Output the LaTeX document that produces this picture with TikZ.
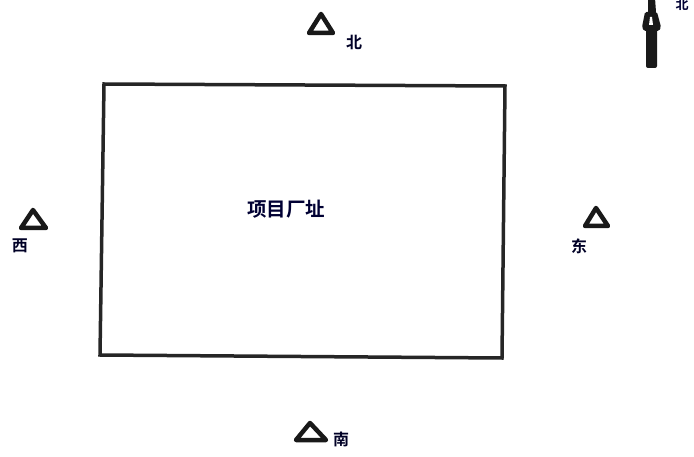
\documentclass[tikz,border=0pt]{standalone}
\usepackage{fontspec}
\newfontfamily\cjk{Noto Sans CJK SC Bold}
\begin{document}
\begin{tikzpicture}[x=1pt,y=-1pt,
  tri/.style={line width=4.5pt,line join=round,draw=black!90},
  lbl/.style={font=\cjk\fontsize{16}{16}\selectfont,text=black!85!blue,inner sep=0pt},
  site/.style={line width=3.5pt,draw=black!85}]
\useasboundingbox (0,0) rectangle (694,457);
% site rectangle
\draw[site] (104,84) coordinate (tl) -- (505,86) coordinate (tr) -- (502,358) coordinate (br) -- (100,355) coordinate (bl) -- cycle;
\node[inner sep=0pt,font=\cjk\fontsize{19.5}{19.5}\selectfont,text=black!80!blue] (site) at (286,209) {项目厂址};
% triangles
\draw[tri] (309,33) -- (321,14) -- (333,33) -- cycle;
\node[lbl] (n) at (354,42) {北};
\draw[tri] (21,228) -- (33,210) -- (46,228) -- cycle;
\node[lbl] (w) at (20,246) {西};
\draw[tri] (585,226) -- (596,208) -- (608,226) -- cycle;
\node[lbl] (e) at (579,246) {东};
\draw[tri] (296,440) -- (310,423) -- (326,440) -- cycle;
\node[lbl] (s) at (341,439) {南};
% north arrow
\fill[black!90] (648,-2) -- (655,-2) -- (656,12) -- (648,12) -- cycle;
\fill[black!90,rounded corners=1.5pt] (645,12) -- (657,12) -- (661,27) -- (659,31) -- (644,31) -- (642,27) -- cycle;
\fill[white] (650,17) -- (652,17) -- (653,25) -- (649,25) -- cycle;
\fill[black!90,rounded corners=2pt] (646,29) rectangle (657,68);
\node[inner sep=0pt,font=\cjk\fontsize{13}{13}\selectfont,text=black!80!blue] (na) at (682,5) {北};
\end{tikzpicture}
\end{document}
